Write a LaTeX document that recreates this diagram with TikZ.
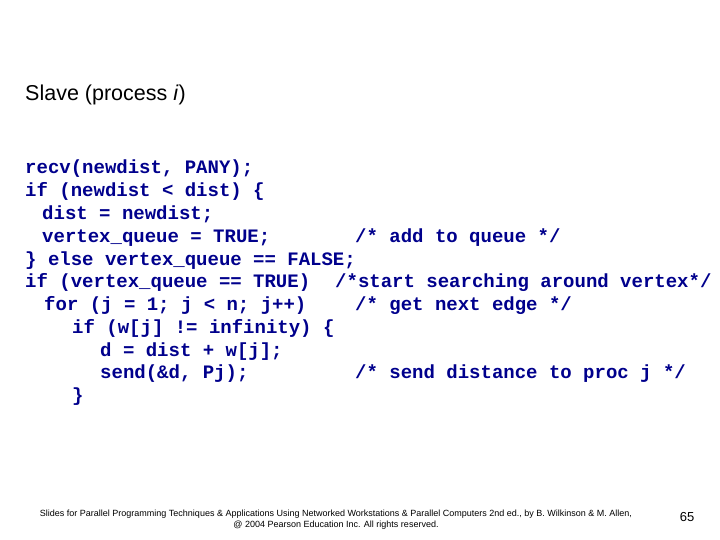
\documentclass[tikz,border=0pt]{standalone}
\usepackage{fontspec}
\setmainfont{Liberation Sans}
\newfontfamily\codefont{Liberation Mono}
\definecolor{navy}{RGB}{0,0,140}
\begin{document}
\begin{tikzpicture}[x=1pt,y=-1pt,
  code/.style={anchor=base west,inner sep=0,text=navy,font=\codefont\bfseries\fontsize{19}{19}\selectfont},
  foot/.style={anchor=base,inner sep=0,font=\fontsize{9}{9}\selectfont}]
\useasboundingbox (0,0) rectangle (720,540);
\node[anchor=base west,inner sep=0,font=\fontsize{21.5}{21.5}\selectfont] (title) at (25,101) {Slave (process \textit{i})};
\node[code] (l1) at (25,174) {recv(newdist, PANY);};
\node[code] (l2) at (25,196.75) {if (newdist < dist) \{};
\node[code] (l3) at (42,219.5) {dist = newdist;};
\node[code] (l4) at (42,242.25) {vertex\_queue = TRUE;};
\node[code] (c4) at (355,242.25) {/* add to queue */};
\node[code] (l5) at (25,265) {\} else vertex\_queue == FALSE;};
\node[code] (l6) at (25,287.75) {if (vertex\_queue == TRUE)};
\node[code] (c6) at (335,287.75) {/*start searching around vertex*/};
\node[code] (l7) at (44,310.5) {for (j = 1; j < n; j++)};
\node[code] (c7) at (355,310.5) {/* get next edge */};
\node[code] (l8) at (72,333.25) {if (w[j] != infinity) \{};
\node[code] (l9) at (100,356) {d = dist + w[j];};
\node[code] (l10) at (100,378.75) {send(\&d, Pj);};
\node[code] (c10) at (355,378.75) {/* send distance to proc j */};
\node[code] (l11) at (72,401.5) {\}};
\node[foot] (f1) at (336,516) {Slides for Parallel Programming Techniques \& Applications Using Networked Workstations \& Parallel Computers 2nd ed., by B. Wilkinson \& M. Allen,};
\node[foot] (f2) at (336,527) {@ 2004 Pearson Education Inc. All rights reserved.};
\node[anchor=base,inner sep=0,font=\fontsize{13}{13}\selectfont] (pg) at (687,521) {65};
\end{tikzpicture}
\end{document}
